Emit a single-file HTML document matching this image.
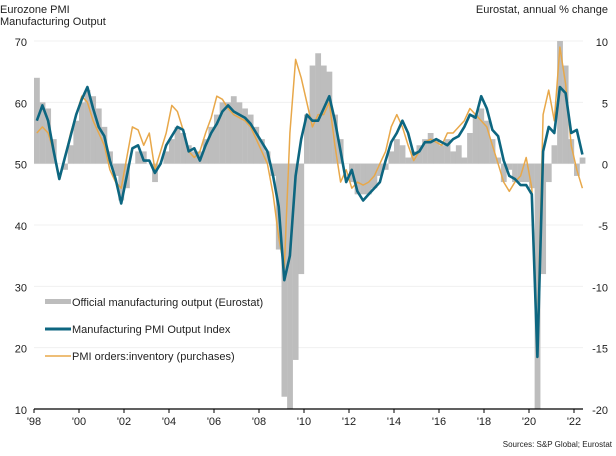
<!DOCTYPE html>
<html><head><meta charset="utf-8"><style>
body{margin:0;background:#fff;}
svg{display:block;font-family:"Liberation Sans",Arial,sans-serif;}
</style></head><body>
<svg id="chart" width="616" height="456">
<text x="0" y="13" font-size="11" fill="#222">Eurozone PMI</text>
<text x="0" y="25" font-size="11" fill="#222">Manufacturing Output</text>
<text x="608" y="13" font-size="11" fill="#222" text-anchor="end">Eurostat, annual % change</text>
<g id="grid"></g><g id="bars"></g><g id="lines"></g><g id="axes"></g>
<g>
<rect x="45" y="299" width="26" height="5" fill="#bdbdbd"/>
<text x="72" y="306" font-size="11" fill="#222">Official manufacturing output (Eurostat)</text>
<line x1="45" y1="329" x2="71" y2="329" stroke="#0d6680" stroke-width="3"/>
<text x="72" y="333" font-size="11" fill="#222">Manufacturing PMI Output Index</text>
<line x1="45" y1="356" x2="71" y2="356" stroke="#e8a84a" stroke-width="1.5"/>
<text x="72" y="360" font-size="11" fill="#222">PMI orders:inventory (purchases)</text>
</g>
<text x="612" y="447" font-size="8" fill="#222" text-anchor="end">Sources: S&amp;P Global; Eurostat</text>
</svg>
<script>
const startYear = 1998;
const pmiOutput = [57,59.5,57,52, 47.5,51,54.5,58, 60.5,62.5,59,56, 54.5,50.5,47.5,43.5, 48,52.5,53,50.5, 50.5,48.5,50,53, 54.5,56,55.5,52, 52.5,50.5,53,55, 56.5,58.5,59.5,58.5, 58,57.5,56.5,55, 53.5,52,48,43, 31,35,48,54, 58,57,57,59, 61,57,52,47, 49,45.5,44,45, 46,47,50.5,53.5, 55,57,55,51.5, 52,53.5,53.5,54, 53.5,53,54,54.5, 56,58,57.5,61, 59,55.5,54.5,50.5, 48,47.5,46.5,46.5, 45,18.5,52,56, 55,62.5,61.5,55, 55.5,51.5];
const ordersInv = [55,56,55,52, 47.5,51,55,58, 61,60,57,55, 53,49,47,46, 51,56,55.5,53, 55,49,52,55, 59.5,58.5,55.5,52, 51,52,55,57.5, 61,60.5,59,58, 57.5,57,56,54, 52,50,45,38, 33,55,67,64, 60,56,58,58, 60,53,47,49, 46,47,46.5,47, 48,50,52,56, 58,56,53,50.5, 52,53.5,54,53.5, 53,55,55,56, 57,59,58,57, 56,53,50,47, 45.5,47,48,51, 46,21,58,62, 57,69,63,53, 49,46];
const eurostat = [7,5,4.5,2, 0,-0.5,1.5,3.5, 5,6,5.5,4.5, 3,1,-1,-3, -2,0,1,1, 0,-1.5,0,1, 2,3,2.5,1.5, 1,1,2,3, 4,5,5,5.5, 5,4.5,4,3, 2,1,-1,-7, -19,-21,-16,-9, 4,8,9,8, 7.5,4,2,0, -1.5,-2.5,-2.5,-2.5, -2,-1,-0.5,1, 2,1.5,0.5,1, 1.5,2,2.5,2, 1.5,2,1,1.5, 0.5,2.5,4,4.5, 3.5,2,0.5,-1.5, -0.5,-1.5,-1.5,-1.5, -2,-21,-9,-1.5, 1.5,10,8,2, -1,0.5];
const leftTicks = [10,20,30,40,50,60,70];
const rightTicks = [-20,-15,-10,-5,0,5,10];
const xTickYears = [1998,2000,2002,2004,2006,2008,2010,2012,2014,2016,2018,2020,2022];

const NS="http://www.w3.org/2000/svg";
const X0=34, PXY=22.5, YTOP=41, YBOT=409;
const xs = t => X0 + (t-1998)*PXY;
const yL = v => YBOT - (v-10)/60*(YBOT-YTOP);
const yR = v => YBOT - (v+20)/30*(YBOT-YTOP);
const tOf = i => startYear + i/4 + 0.125;
function mk(tag, attrs, parent){const e=document.createElementNS(NS,tag);for(const k in attrs)e.setAttribute(k,attrs[k]);parent.appendChild(e);return e;}
const grid=document.getElementById('grid'), bars=document.getElementById('bars'), lines=document.getElementById('lines'), axes=document.getElementById('axes');

leftTicks.forEach(v=>{
  if(v!==10){const g=mk('line',{x1:X0,x2:583,y1:yL(v),y2:yL(v),stroke:'#f0f0f0','stroke-width':1},grid);
  
  }
  const t=mk('text',{x:27,y:yL(v)+5,'font-size':11,fill:'#222','text-anchor':'end'},axes);t.textContent=v;
  
  
});
rightTicks.forEach(v=>{
  const t=mk('text',{x:608,y:yR(v)+5,'font-size':11,fill:'#222','text-anchor':'end'},axes);t.textContent=v;
  
  
});
eurostat.forEach((v,i)=>{
  let y0=yR(0), y1=yR(Math.max(-20,Math.min(10,v)));
  const r=mk('rect',{x:xs(startYear+i/4),y:Math.min(y0,y1),width:5.8,height:Math.abs(y1-y0),fill:'#bdbdbd'},bars);
  
  
});
function line(arr,color,w,name){
  const d=arr.map((v,i)=>(i?'L':'M')+xs(tOf(i)).toFixed(1)+','+yL(Math.max(10,Math.min(70,v))).toFixed(1)).join('');
  const p=mk('path',{d:d,fill:'none',stroke:color,'stroke-width':w,'stroke-linejoin':'round'},lines);
  
  
}
line(ordersInv,'#e8a84a',1.5,'orders-inventory-line');
line(pmiOutput,'#0d6680',2.6,'pmi-output-line');
const ax=mk('line',{x1:X0,x2:583,y1:YBOT,y2:YBOT,stroke:'#000','stroke-width':1.2},axes);


xTickYears.forEach(yr=>{
  const tk=mk('line',{x1:xs(yr),x2:xs(yr),y1:YBOT,y2:YBOT+4,stroke:'#000'},axes);
  
  
  const t=mk('text',{x:xs(yr),y:YBOT+16,'font-size':11,fill:'#222','text-anchor':'middle'},axes);
  t.textContent="'"+String(yr).slice(2);
  
  
});
</script>
</body></html>
